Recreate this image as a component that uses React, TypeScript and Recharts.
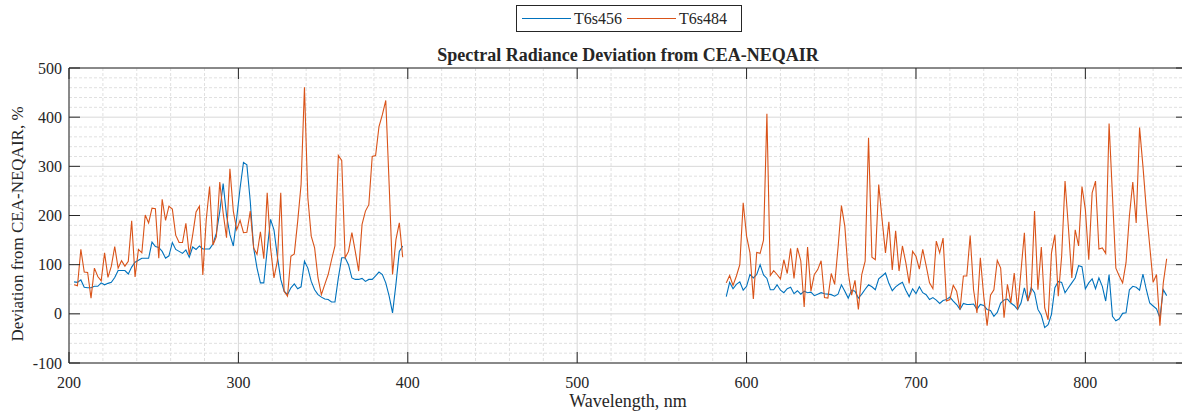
import { LineChart, Line, XAxis, YAxis, CartesianGrid, ReferenceArea } from "recharts";

const FONT = '"Liberation Serif", "Times New Roman", serif';
const INK = "#262626";

// plot box in page pixels (axes are cropped slightly on the right)
const L = 69;
const T = 68;
const R = 1187;
const B = 363;
const TICK_LEN = 11;

const X_DOMAIN = [200, 860];
const Y_DOMAIN = [-100, 500];
const X_TICKS = [200, 300, 400, 500, 600, 700, 800];
const Y_TICKS = [-100, 0, 100, 200, 300, 400, 500];
const X_MINOR = [220, 240, 260, 280, 320, 340, 360, 380, 420, 440, 460, 480, 520, 540, 560, 580, 620, 640, 660, 680, 720, 740, 760, 780, 820, 840];
const Y_MINOR = [-80, -60, -40, -20, 20, 40, 60, 80, 120, 140, 160, 180, 220, 240, 260, 280, 320, 340, 360, 380, 420, 440, 460, 480];

// UV band
const WL_UV = [
  203, 205, 207, 209, 211, 213, 215, 217, 219, 221, 223, 225, 227, 229, 231, 233, 235, 237, 239, 241,
  243, 245, 247, 249, 251, 253, 255, 257, 259, 261, 263, 265, 267, 269, 271, 273, 275, 277, 279, 281,
  283, 285, 287, 289, 291, 293, 295, 297, 299, 301, 303, 305, 307, 309, 311, 313, 315, 317, 319, 321,
  323, 325, 327, 329, 331, 333, 335, 337, 339, 341, 343, 345, 347, 349, 351, 353, 355, 357, 359, 361,
  363, 365, 367, 369, 371, 373, 375, 377, 379, 381, 383, 385, 387, 389, 391, 393, 395, 397,
];
const S456_UV = [
  65, 64, 69, 54, 53, 53, 56, 56, 63, 59, 62, 64, 74, 88, 88, 88, 81, 95, 105, 109,
  113, 113, 113, 146, 137, 135, 127, 113, 118, 145, 131, 127, 123, 130, 115, 136, 131, 138, 132, 132,
  132, 142, 164, 208, 265, 200, 161, 138, 195, 256, 308, 303, 229, 134, 93, 63, 63, 130, 192, 171,
  117, 70, 46, 39, 53, 61, 51, 55, 107, 93, 66, 49, 39, 34, 30, 29, 24, 24, 73, 114,
  114, 100, 73, 70, 70, 72, 66, 70, 70, 77, 85, 80, 63, 36, 2, 60, 127, 138,
];
const S484_UV = [
  59, 57, 131, 85, 84, 32, 93, 76, 67, 124, 74, 97, 137, 93, 108, 97, 107, 189, 75, 131,
  124, 201, 185, 215, 214, 113, 233, 190, 219, 213, 160, 145, 145, 184, 120, 160, 207, 219, 79, 191,
  259, 140, 157, 268, 205, 155, 295, 209, 171, 190, 165, 166, 209, 134, 121, 167, 112, 246, 134, 73,
  107, 246, 46, 36, 117, 122, 188, 263, 461, 236, 158, 134, 73, 39, 60, 80, 110, 138, 322, 312,
  114, 127, 165, 127, 87, 182, 209, 222, 320, 322, 381, 405, 434, 263, 80, 151, 185, 115,
];

// visible / near-IR band
const WL_VIS = [
  588, 590, 592, 594, 596, 598, 600, 602, 604, 606, 608, 610, 612, 614, 616, 618, 620, 622, 624, 626,
  628, 630, 632, 634, 636, 638, 640, 642, 644, 646, 648, 650, 652, 654, 656, 658, 660, 662, 664, 666,
  668, 670, 672, 674, 676, 678, 680, 682, 684, 686, 688, 690, 692, 694, 696, 698, 700, 702, 704, 706,
  708, 710, 712, 714, 716, 718, 720, 722, 724, 726, 728, 730, 732, 734, 736, 738, 740, 742, 744, 746,
  748, 750, 752, 754, 756, 758, 760, 762, 764, 766, 768, 770, 772, 774, 776, 778, 780, 782, 784, 786,
  788, 790, 792, 794, 796, 798, 800, 802, 804, 806, 808, 810, 812, 814, 816, 818, 820, 822, 824, 826,
  828, 830, 832, 834, 836, 838, 840, 842, 844, 846, 848,
];
const S456_VIS = [
  35, 64, 51, 60, 65, 48, 56, 80, 73, 80, 100, 79, 72, 49, 49, 59, 48, 43, 51, 54,
  41, 47, 40, 46, 43, 44, 37, 40, 43, 41, 40, 39, 36, 40, 59, 46, 32, 48, 46, 32,
  40, 50, 59, 55, 49, 71, 77, 83, 62, 47, 55, 60, 64, 48, 35, 51, 41, 55, 43, 39,
  29, 33, 28, 21, 27, 29, 34, 26, 19, 9, 21, 19, 19, 20, 9, 19, 17, 9, 7, -5,
  3, 22, 28, 30, 22, 17, 9, 22, 53, 26, 53, 43, 9, -3, -28, -22, -1, 53, 66, 64,
  43, 53, 63, 73, 98, 96, 51, 63, 71, 51, 73, 56, 26, 80, -5, -14, -10, 1, 2, 49,
  56, 54, 48, 81, 49, 22, 16, 10, -8, 49, 37,
];
const S484_VIS = [
  63, 78, 58, 77, 100, 226, 158, 124, 30, 125, 123, 150, 407, 78, 88, 80, 71, 110, 82, 133,
  72, 134, 108, 14, 136, 46, 80, 90, 108, 33, 32, 82, 60, 135, 220, 178, 84, 38, 68, 9,
  80, 107, 358, 115, 110, 263, 192, 124, 187, 89, 169, 87, 138, 104, 62, 127, 117, 91, 131, 98,
  63, 51, 148, 124, 154, 26, 29, 58, 46, 9, 77, 77, 159, 49, 2, 114, 36, -24, 38, 49,
  109, 93, -8, 60, 22, 83, 9, 87, 165, 26, 45, 209, 49, 136, 12, -12, 124, 161, 36, 117,
  270, 175, 73, 171, 138, 259, 212, 110, 246, 270, 132, 134, 123, 387, 240, 93, 77, 63, 104, 199,
  268, 185, 379, 300, 212, 138, 64, 80, -24, 63, 112,
];

const SERIES = [
  { key: "s456", name: "T6s456", color: "#0072BD" },
  { key: "s484", name: "T6s484", color: "#D95319" },
];

// a null row between the two bands breaks both lines
const rows = [
  ...WL_UV.map((wl, i) => ({ wl, s456: S456_UV[i], s484: S484_UV[i] })),
  { wl: 490, s456: null, s484: null },
  ...WL_VIS.map((wl, i) => ({ wl, s456: S456_VIS[i], s484: S484_VIS[i] })),
];

// pixel positions for the minor grid
const gx = (v: number) => L + ((v - X_DOMAIN[0]) / (X_DOMAIN[1] - X_DOMAIN[0])) * (R - L);
const gy = (v: number) => B - ((v - Y_DOMAIN[0]) / (Y_DOMAIN[1] - Y_DOMAIN[0])) * (B - T);

const labelStyle = { fontFamily: FONT };

function XTick(props: any) {
  const { x, payload } = props;
  return (
    <g>
      <line x1={x} x2={x} y1={B} y2={B - TICK_LEN} stroke={INK} />
      <line x1={x} x2={x} y1={T} y2={T + TICK_LEN} stroke={INK} />
      <text x={x} y={B + 25} textAnchor="middle" style={labelStyle} fontSize={16} fill={INK}>
        {payload.value}
      </text>
    </g>
  );
}

function YTick(props: any) {
  const { y, payload } = props;
  return (
    <g>
      <line x1={L} x2={L + TICK_LEN} y1={y} y2={y} stroke={INK} />
      <line x1={R} x2={R - TICK_LEN} y1={y} y2={y} stroke={INK} />
      <text x={L - 7} y={y + 5.5} textAnchor="end" style={labelStyle} fontSize={16} fill={INK}>
        {payload.value}
      </text>
    </g>
  );
}

export default function App() {
  return (
    <div
      style={{
        position: "absolute",
        left: 0,
        top: 0,
        width: 1182,
        height: 413,
        overflow: "hidden",
        background: "#fff",
        fontFamily: FONT,
        color: INK,
      }}
    >
      <LineChart width={1200} height={413} data={rows} margin={{ top: T, right: 1200 - R, bottom: 0, left: 0 }}>
        <CartesianGrid
          stroke="#e0e0e0"
          strokeDasharray="3 2"
          verticalPoints={X_MINOR.map(gx)}
          horizontalPoints={Y_MINOR.map(gy)}
        />
        <CartesianGrid stroke="#d8d8d8" />
        <XAxis
          dataKey="wl"
          type="number"
          domain={X_DOMAIN}
          ticks={X_TICKS}
          interval={0}
          height={413 - B}
          axisLine={false}
          tickLine={false}
          tick={XTick}
          allowDataOverflow
        />
        <YAxis
          type="number"
          domain={Y_DOMAIN}
          ticks={Y_TICKS}
          interval={0}
          width={L}
          axisLine={false}
          tickLine={false}
          tick={YTick}
          allowDataOverflow
        />
        {SERIES.map((s) => (
          <Line
            key={s.key}
            dataKey={s.key}
            name={s.name}
            stroke={s.color}
            strokeWidth={1.1}
            dot={false}
            isAnimationActive={false}
          />
        ))}
        <ReferenceArea x1={200} x2={860} y1={-100} y2={500} fill="none" stroke={INK} strokeWidth={1} />
      </LineChart>

      {/* legend box */}
      <div
        style={{
          position: "absolute",
          left: 516,
          top: 5,
          width: 224,
          height: 25,
          border: `1px solid ${INK}`,
          background: "#fff",
          display: "flex",
          alignItems: "center",
          fontSize: 16,
        }}
      >
        {SERIES.map((s) => (
          <div key={s.key} style={{ display: "flex", alignItems: "center", marginLeft: 5 }}>
            <div style={{ width: 49, height: 0, borderTop: `1.2px solid ${s.color}`, marginRight: 3 }} />
            <span>{s.name}</span>
          </div>
        ))}
      </div>

      <div
        style={{
          position: "absolute",
          left: L,
          width: R - L,
          top: 45,
          textAlign: "center",
          fontWeight: "bold",
          fontSize: 18,
        }}
      >
        Spectral Radiance Deviation from CEA-NEQAIR
      </div>
      <div
        style={{
          position: "absolute",
          left: L,
          width: R - L,
          top: 391,
          textAlign: "center",
          fontSize: 18,
        }}
      >
        Wavelength, nm
      </div>
      <div
        style={{
          position: "absolute",
          left: 18,
          top: 224,
          transform: "translate(-50%, -50%) rotate(-90deg)",
          whiteSpace: "nowrap",
          fontSize: 17,
        }}
      >
        Deviation from CEA-NEQAIR, %
      </div>
    </div>
  );
}
